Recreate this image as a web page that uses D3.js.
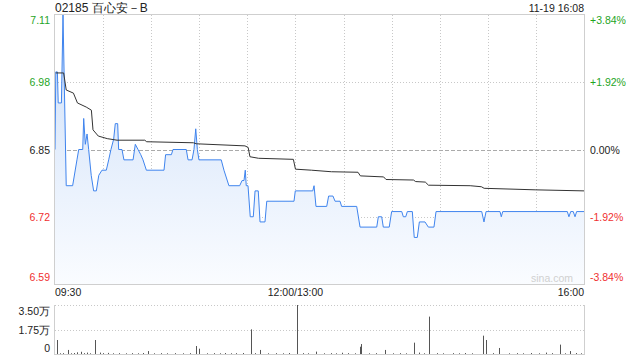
<!DOCTYPE html>
<html>
<head>
<meta charset="utf-8">
<script src="https://cdn.jsdelivr.net/npm/d3@7"></script>
<style>
  body { margin: 0; background: #fff; }
  svg { display: block; font-family: "Liberation Sans", Arial, sans-serif; }
</style>
</head>
<body>
<svg id="chart"></svg>
<script>
// minutes since 09:30 (lunch break collapsed, 12:00 == 13:00)
const priceMin = [0,0.5,1.5,2,4,5,7,11,13.7,14.8,17.3,17.9,18.9,20,21,22.6,24.1,25.8,27.3,29.3,32,33.5,34.9,36.6,37.6,39.1,39.7,41.8,43,48.7,50.1,51.8,53.5,54.9,57,68,69,72.6,73.6,81.9,83,85.5,86.7,87.8,88.8,89.8,103.7,105.4,108.5,115.2,116.7,117.9,118.7,119.3,120.4,121.8,123.7,124.8,126.8,127.9,131,132.1,149.1,149.9,160.8,161.6,162.8,169.5,170.7,173.4,174.7,177.8,178.8,188.2,190.3,200.7,201.7,203.8,204.8,208.5,210,216.3,217.3,218.8,219.8,222.9,224.1,226,227.3,230.8,232.9,236.4,237.7,266.2,267.6,268.9,277.6,278.4,279.3,319.6,320.6,321.7,323.3,324.4,325.4,330];
const priceVal = [6.85,7.00,7.00,6.94,6.94,7.11,6.78,6.78,6.83,6.85,6.85,6.91,6.86,6.88,6.85,6.80,6.77,6.77,6.80,6.81,6.81,6.83,6.85,6.87,6.90,6.90,6.85,6.85,6.83,6.83,6.86,6.85,6.84,6.83,6.81,6.81,6.84,6.84,6.85,6.85,6.83,6.83,6.85,6.89,6.85,6.83,6.83,6.81,6.78,6.78,6.79,6.79,6.81,6.78,6.78,6.72,6.72,6.77,6.77,6.71,6.71,6.75,6.75,6.77,6.77,6.78,6.74,6.74,6.76,6.76,6.75,6.75,6.74,6.74,6.70,6.70,6.72,6.72,6.70,6.70,6.73,6.73,6.72,6.72,6.73,6.73,6.68,6.68,6.71,6.71,6.70,6.70,6.73,6.73,6.71,6.73,6.73,6.72,6.73,6.73,6.72,6.73,6.73,6.72,6.73,6.73];

const avgMin = [0.5,5.4,7,11.5,14,19.5,22.7,23.7,27,32.6,38.7,56,57.2,86.3,88.4,118.5,120.5,121.6,127,148.7,150,160,172.4,189,190.5,205,206.5,223.6,225,231,233,259,266,267.7,300,330];
const avgVal = [6.998,6.998,6.965,6.959,6.940,6.932,6.926,6.888,6.876,6.871,6.868,6.868,6.865,6.863,6.861,6.857,6.854,6.836,6.833,6.831,6.812,6.810,6.807,6.806,6.799,6.797,6.792,6.791,6.788,6.787,6.781,6.780,6.778,6.775,6.772,6.770];

const volMin = [1,3,5,8,10,12,14,16,18,20,22,25,28,30,33,36,40,44,48,52,55,58,62,66,70,75,80,84,88,90,95,99,103,106,110,113,117,122,125,128,133,138,142,146,151,155,158,163,168,172,175,179,183,187,190,191,196,200,206,211,215,219,224,227,230,233,238,242,248,252,256,260,267,269,273,277,283,288,292,297,302,306,310,315,318,321,325,328];
const volVal = [10000,500,600,2900,500,700,1200,1600,600,1000,500,10000,1000,600,800,500,600,500,600,500,700,2100,500,600,500,600,500,600,5700,3800,500,600,500,700,500,600,700,17600,600,2900,500,600,500,700,35000,600,500,1700,500,600,500,900,600,500,5200,7100,500,600,2900,500,600,500,8100,1000,500,26700,600,500,600,500,700,500,13100,10000,600,4300,500,600,500,700,500,1000,600,6700,500,2100,700,500];

const priceTicks = [6.59, 6.72, 6.85, 6.98, 7.11];
const pctLabels = ["-3.84%", "-1.92%", "0.00%", "+1.92%", "+3.84%"];
const timeGrid = [0, 30, 60, 90, 120, 150, 180, 210, 240, 270, 300, 330];
const timeLabels = [[0, "09:30"], [150, "12:00/13:00"], [330, "16:00"]];
const volTicks = [0, 17500, 35000];
const volLabels = ["0", "1.75万", "3.50万"];

const W = 640, H = 360;
const L = 55, R = 584, T = 15, B = 284;
const VT = 305, VB = 354;
const preClose = 6.85;
const green = "#1fa51f", red = "#f03030";

const svg = d3.select("#chart").attr("width", W).attr("height", H);

const x = d3.scaleLinear().domain([0, 330]).range([L, R]);
const y = d3.scaleLinear().domain([6.59, 7.11]).range([B, T]);
const yv = d3.scaleLinear().domain([0, 35000]).range([VB, VT]);

const colorOf = v => v > preClose + 1e-9 ? green : (v < preClose - 1e-9 ? red : "#222");

// gradient for area
const defs = svg.append("defs");
const grad = defs.append("linearGradient").attr("id", "areaGrad")
    .attr("gradientUnits", "userSpaceOnUse")
    .attr("x1", 0).attr("y1", T).attr("x2", 0).attr("y2", B);
grad.append("stop").attr("offset", 0).attr("stop-color", "#cddff9");
grad.append("stop").attr("offset", 1).attr("stop-color", "#fafcff");

// grid
const grid = svg.append("g");
timeGrid.slice(1, -1).forEach(m => {
    grid.append("line").attr("x1", Math.round(x(m)) + 0.5).attr("x2", Math.round(x(m)) + 0.5)
        .attr("y1", T).attr("y2", B)
        .attr("stroke", "#c8c8c8").attr("stroke-dasharray", "1,2");
});
priceTicks.slice(1, -1).forEach(p => {
    const yy = Math.round(y(p)) + 0.5;
    grid.append("line").attr("x1", L).attr("x2", R).attr("y1", yy).attr("y2", yy)
        .attr("stroke", p === preClose ? "#aaa" : "#c8c8c8")
        .attr("stroke-dasharray", p === preClose ? "4,2" : "1,2");
});

// area + lines
const pts = priceMin.map((m, i) => [m, priceVal[i]]);
svg.append("path")
    .attr("d", d3.area().x(d => x(d[0])).y0(B).y1(d => y(d[1]))(pts))
    .attr("fill", "url(#areaGrad)");
svg.append("path")
    .attr("d", d3.line().x(d => x(d[0])).y(d => y(d[1]))(pts))
    .attr("fill", "none").attr("stroke", "#3f84ee").attr("stroke-width", 1);
const apts = avgMin.map((m, i) => [m, avgVal[i]]);
svg.append("path")
    .attr("d", d3.line().x(d => x(d[0])).y(d => y(d[1]))(apts))
    .attr("fill", "none").attr("stroke", "#333").attr("stroke-width", 1);

// frame
svg.append("rect").attr("x", L - 0.5).attr("y", T - 0.5).attr("width", R - L + 1).attr("height", B - T + 1)
    .attr("fill", "none").attr("stroke", "#cfcfcf");

// watermark
svg.append("text").attr("x", 573).attr("y", 282).attr("text-anchor", "end")
    .attr("font-size", "10.5px").attr("fill", "#d0d0d0").text("sina.com");

// price labels
priceTicks.forEach((p, i) => {
    const last = i === priceTicks.length - 1, first = i === 0;
    const yy = y(p);
    const dy = last ? 9 : (first ? -3 : 4);
    svg.append("text").attr("x", 50).attr("y", yy + dy).attr("text-anchor", "end")
        .attr("font-size", "10.5px").attr("fill", colorOf(p)).text(p.toFixed(2));
    svg.append("text").attr("x", 590).attr("y", yy + dy)
        .attr("font-size", "10.5px").attr("fill", colorOf(p)).text(pctLabels[i]);
});

// time labels
timeLabels.forEach(([m, s], i) => {
    svg.append("text").attr("x", x(m)).attr("y", 296)
        .attr("text-anchor", i === 0 ? "start" : (i === timeLabels.length - 1 ? "end" : "middle"))
        .attr("font-size", "10.5px").attr("fill", "#222").text(s);
});

// title
svg.append("text").attr("x", L).attr("y", 12).attr("font-size", "12px").attr("fill", "#222")
    .text("02185 百心安－B");
svg.append("text").attr("x", R).attr("y", 11.5).attr("text-anchor", "end")
    .attr("font-size", "10.5px").attr("fill", "#222").text("11-19 16:08");

// volume panel
svg.append("line").attr("x1", L).attr("x2", R).attr("y1", VT + 0.5).attr("y2", VT + 0.5)
    .attr("stroke", "#c8c8c8").attr("stroke-dasharray", "1,2");
svg.append("line").attr("x1", L).attr("x2", R).attr("y1", Math.round(yv(17500)) + 0.5).attr("y2", Math.round(yv(17500)) + 0.5)
    .attr("stroke", "#c8c8c8").attr("stroke-dasharray", "1,2");
svg.append("line").attr("x1", L - 0.5).attr("x2", L - 0.5).attr("y1", VT).attr("y2", VB + 1).attr("stroke", "#cfcfcf");
svg.append("line").attr("x1", R + 0.5).attr("x2", R + 0.5).attr("y1", VT).attr("y2", VB + 1).attr("stroke", "#cfcfcf");
svg.append("line").attr("x1", L).attr("x2", R).attr("y1", VB + 0.5).attr("y2", VB + 0.5).attr("stroke", "#cfcfcf");

svg.append("g").selectAll("line").data(volMin.map((m, i) => [m, volVal[i]])).join("line")
    .attr("x1", d => Math.round(x(d[0])) + 0.5).attr("x2", d => Math.round(x(d[0])) + 0.5)
    .attr("y1", VB).attr("y2", d => yv(d[1]))
    .attr("stroke", "#555").attr("stroke-width", 1);

volTicks.forEach((v, i) => {
    const dy = i === 0 ? -2 : (i === volTicks.length - 1 ? 10 : 4);
    svg.append("text").attr("x", 50).attr("y", yv(v) + dy).attr("text-anchor", "end")
        .attr("font-size", "10.5px").attr("fill", "#222").text(volLabels[i]);
});
</script>
</body>
</html>
